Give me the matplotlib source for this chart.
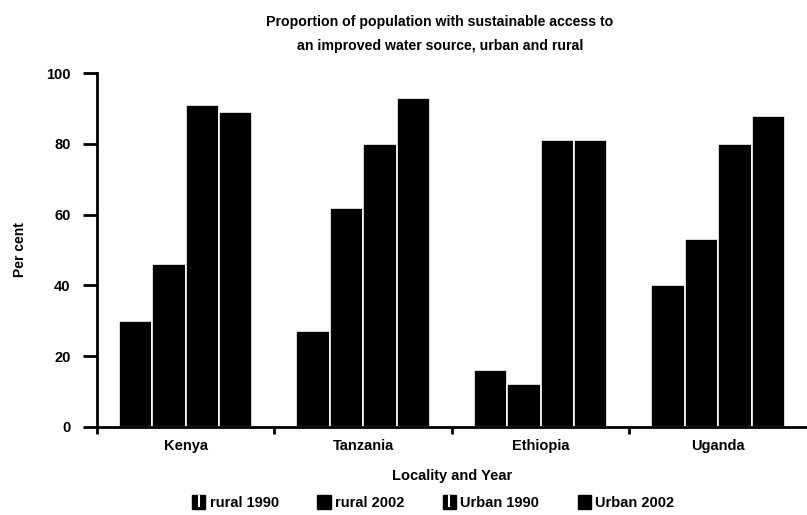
import matplotlib
matplotlib.use("Agg")
import matplotlib.pyplot as plt
from matplotlib.patches import Patch
from matplotlib.lines import Line2D
from matplotlib.legend_handler import HandlerTuple
import numpy as np

plt.rcParams['font.family'] = ['Liberation Sans', 'DejaVu Sans']

countries = ["Kenya", "Tanzania", "Ethiopia", "Uganda"]
series_names = ["rural 1990", "rural 2002", "Urban 1990", "Urban 2002"]
rural_1990 = [30, 27, 16, 40]
rural_2002 = [46, 62, 12, 53]
urban_1990 = [91, 80, 81, 80]
urban_2002 = [89, 93, 81, 88]
y_ticks = [0, 20, 40, 60, 80, 100]

fig = plt.figure(figsize=(8.07, 5.15), dpi=100)
ax = fig.add_axes([0.120, 0.171, 0.88, 0.687])

series = [rural_1990, rural_2002, urban_1990, urban_2002]
centers = np.arange(len(countries)) + 0.5
bw = 0.188
for i, vals in enumerate(series):
    offs = (i - 1.5) * bw
    ax.bar(centers + offs, vals, width=bw, color='black', edgecolor='white', linewidth=1.2)

ax.set_xlim(0, 4)
ax.set_ylim(0, 100)
for s in ['top', 'right']:
    ax.spines[s].set_visible(False)
ax.spines['left'].set_linewidth(2)
ax.spines['bottom'].set_linewidth(2)
ax.set_yticks(y_ticks)
ax.tick_params(axis='y', direction='out', length=10, width=2, labelsize=10.5, pad=9)
ax.set_xticks(centers)
ax.set_xticklabels(countries)
ax.tick_params(axis='x', which='major', length=0, labelsize=10.5, pad=9)
ax.set_xticks([0, 1, 2, 3], minor=True)
ax.tick_params(axis='x', which='minor', direction='out', length=5, width=2)
for lbl in ax.get_yticklabels() + ax.get_xticklabels():
    lbl.set_fontweight('bold')

ax.set_ylabel("Per cent", fontsize=10, fontweight='bold', labelpad=14)
ax.set_xlabel("Locality and Year", fontsize=10.5, fontweight='bold', labelpad=11)

fig.text(0.545, 0.958, "Proportion of population with sustainable access to",
         ha='center', va='center', fontsize=10.2, fontweight='bold')
fig.text(0.545, 0.910, "an improved water source, urban and rural",
         ha='center', va='center', fontsize=10.2, fontweight='bold')

handles = []
for name in series_names:
    sq = Patch(facecolor='black', edgecolor='black')
    if '1990' in name:
        stripe = Line2D([], [], marker='|', color='white', markersize=9,
                        markeredgewidth=1.5, linestyle='None')
        handles.append((sq, stripe))
    else:
        handles.append(sq)
leg = fig.legend(handles, series_names, loc='center', bbox_to_anchor=(0.537, 0.025), ncol=4,
                 frameon=False, handler_map={tuple: HandlerTuple(ndivide=1)},
                 handlelength=0.9, handleheight=1.1, handletextpad=0.3, columnspacing=2.65,
                 prop={'size': 10.5, 'weight': 'bold'})

fig.savefig("out.png", dpi=100)
